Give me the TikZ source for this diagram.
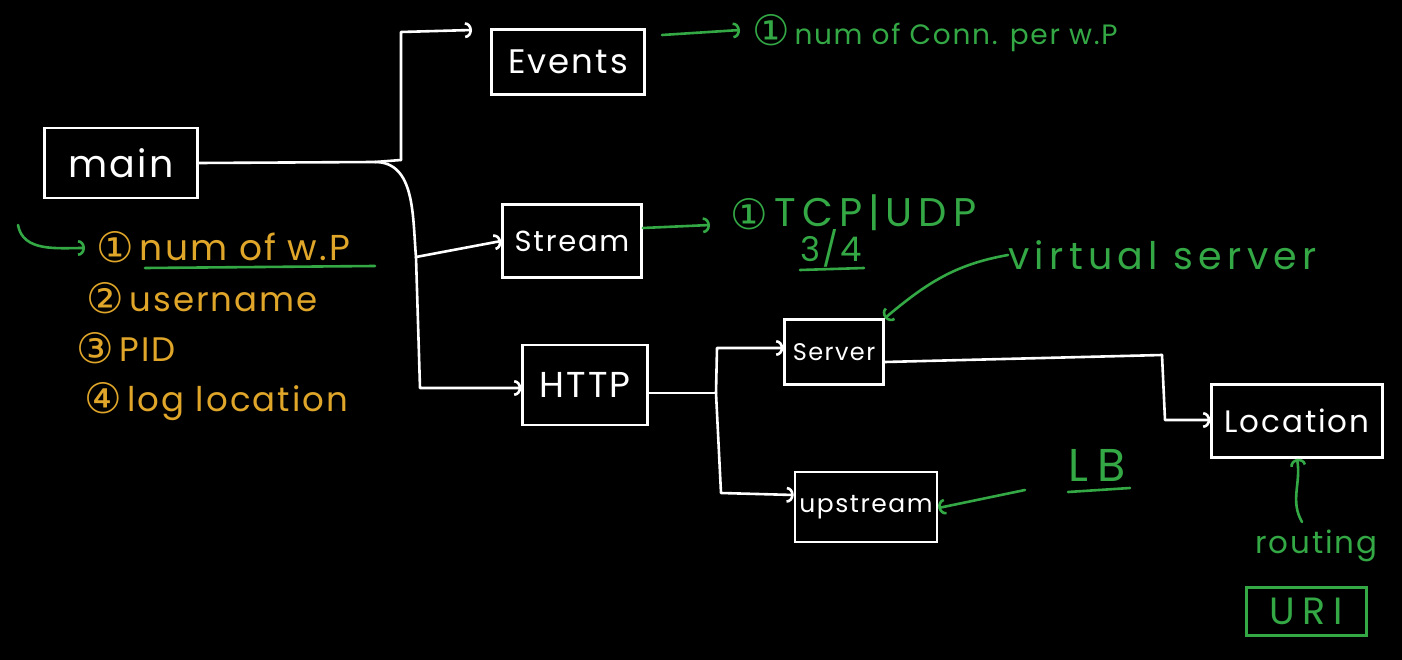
\documentclass[tikz,border=0pt]{standalone}
\usepackage{fontspec}
\setmainfont{Poppins}[LetterSpace=6]
\newfontfamily\symf{DejaVu Sans}
\usetikzlibrary{arrows.meta}
\definecolor{gr}{HTML}{33A845}
\definecolor{og}{HTML}{E0A62A}
\newcommand{\fs}[1]{\fontsize{#1}{#1}\selectfont}
\newcommand{\wide}[1]{\addfontfeatures{LetterSpace=#1}}
\newcommand{\circnum}[1]{\raisebox{-0.06em}{\symf\fontsize{42}{42}\selectfont #1}\,}
\tikzset{
  box/.style={draw=white, line width=2.6pt, rectangle, inner sep=0pt, text=white},
  wire/.style={draw=white, line width=2.6pt, line join=round, line cap=round},
  gwire/.style={draw=gr, line width=2.6pt, line cap=round},
  tip/.style={-{Arc Barb[length=7pt,width=16pt]}},
  gtxt/.style={text=gr, anchor=west, inner sep=0pt},
  otxt/.style={text=og, anchor=west, inner sep=0pt, font=\fs{34}},
}
\begin{document}
\begin{tikzpicture}[x=1pt,y=-1pt]
\fill[black] (0,0) rectangle (1402,660);
\useasboundingbox (0,0) rectangle (1402,660);
% boxes
\node[box, minimum width=153pt, minimum height=70pt, font=\fs{38}] (main) at (121,163) {main};
\node[box, minimum width=153pt, minimum height=65pt, font=\fs{34}] (events) at (568,62) {Events};
\node[box, minimum width=139pt, minimum height=73pt, font=\fs{29}] (stream) at (572,241) {Stream};
\node[box, minimum width=125pt, minimum height=80pt, font=\fs{36}] (http) at (585,385) {HTTP};
\node[box, minimum width=99pt, minimum height=65pt, font=\fs{24}] (server) at (834,352) {Server};
\node[box, minimum width=142pt, minimum height=70pt, font=\fs{25}] (upstream) at (866,507) {upstream};
\node[box, minimum width=171pt, minimum height=73pt, font=\fs{31}] (location) at (1297,421) {Location};
\node[box, draw=gr, text=gr, minimum width=120pt, minimum height=48pt, line width=3pt, font=\fs{38}\wide{20}] (uri) at (1306,611) {URI};
% junctions
\coordinate (j1) at (375,162);
\coordinate (j2) at (401,160);
\coordinate (j3) at (416,257);
\coordinate (j4) at (716,393);
\coordinate (j5) at (1162,355);
% white connectors
\draw[wire] (main.east) -- (j1) -- (j2);
\draw[wire, tip] (j2) -- (401,32) -- (472,30);
\draw[wire] (j1) to[out=0,in=95] (j3);
\draw[wire, tip] (j3) -- (stream.west);
\draw[wire, tip] (j3) -- (420,388) -- (http.west |- 0,388);
\draw[wire] (http.east |- 0,393) -- (j4);
\draw[wire, tip] (j4) -- (717,348) -- (server.west |- 0,348);
\draw[wire, tip] (j4) -- (721,493) -- (upstream.west |- 0,495);
\draw[wire] (server.east |- 0,362) -- (j5);
\draw[wire, tip] (j5) -- (1165,420) -- (location.west |- 0,420);
% green annotations
\draw[gwire, tip] (662,35) -- (740,30);
\node[gtxt, font=\fs{28}] (t1) at (752,33) {\circnum{①}num of Conn. per w.P};
\draw[gwire, tip] (stream.east |- 0,228) -- (710,225);
\node[gtxt, font=\fs{40}\wide{15}] (t2) at (730,213) {\circnum{①}TCP|UDP};
\node[gtxt, font=\fs{34}] (t3) at (800,248) {3/4};
\draw[gwire] (800,270) -- (864,268);
\node[gtxt, font=\fs{38}\wide{14}] (vs) at (1008,255) {virtual server};
\draw[gwire, tip] (vs.west) to[out=190,in=40] (server.north east);
\node[gtxt, font=\fs{46}\wide{20}] (lb) at (1068,465) {LB};
\draw[gwire] (1068,492) -- (1130,488);
\draw[gwire, tip] (1025,490) -- (upstream.east |- 0,508);
\node[gtxt, font=\fs{31}] (rt) at (1255,546) {routing};
\draw[gwire, tip] (1302,522) to[out=120,in=-80] (location.south);
% orange list
\draw[gwire, tip] (18,225) to[out=-80,in=180] (85,248);
\node[otxt, font=\fs{36}] (l1) at (96,247) {\circnum{①}num of w.P};
\draw[gwire] (145,268) -- (375,266);
\node[otxt] (l2) at (86,298) {\circnum{②}username};
\node[otxt] (l3) at (76,348) {\circnum{③}PID};
\node[otxt] (l4) at (84,402) {\circnum{④}log location};
\end{tikzpicture}
\end{document}
